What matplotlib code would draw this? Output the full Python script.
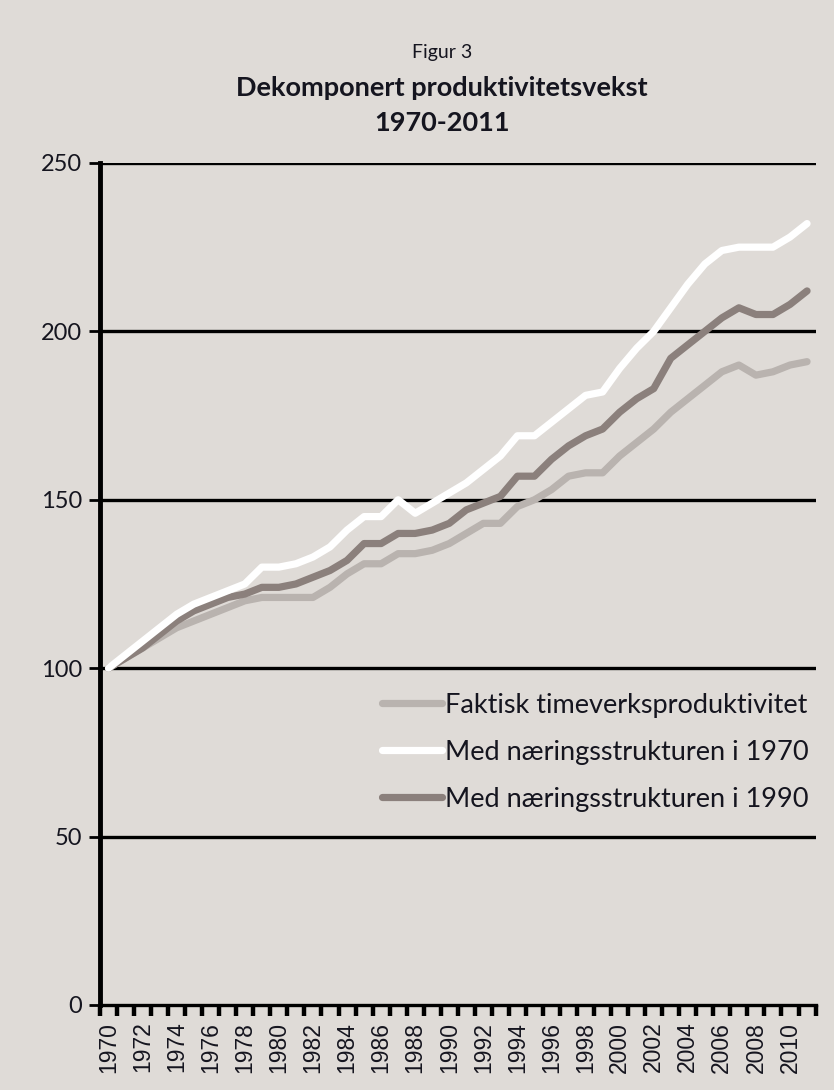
import matplotlib
matplotlib.use("Agg")
import matplotlib.pyplot as plt
import numpy as np

years = list(range(1970, 2012))

faktisk = [100, 103, 106, 109, 112, 114, 116, 118, 120, 121,
           121, 121, 121, 124, 128, 131, 131, 134, 134, 135,
           137, 140, 143, 143, 148, 150, 153, 157, 158, 158,
           163, 167, 171, 176, 180, 184, 188, 190, 187, 188,
           190, 191]
struktur_1970 = [100, 104, 108, 112, 116, 119, 121, 123, 125, 130,
                 130, 131, 133, 136, 141, 145, 145, 150, 146, 149,
                 152, 155, 159, 163, 169, 169, 173, 177, 181, 182,
                 189, 195, 200, 207, 214, 220, 224, 225, 225, 225,
                 228, 232]
struktur_1990 = [100, 103, 106, 110, 114, 117, 119, 121, 122, 124,
                 124, 125, 127, 129, 132, 137, 137, 140, 140, 141,
                 143, 147, 149, 151, 157, 157, 162, 166, 169, 171,
                 176, 180, 183, 192, 196, 200, 204, 207, 205, 205,
                 208, 212]

labels = ["Faktisk timeverksproduktivitet",
          "Med næringsstrukturen i 1970",
          "Med næringsstrukturen i 1990"]
colors = ["#b9b3af", "#ffffff", "#8b807c"]
yticks = [0, 50, 100, 150, 200, 250]

bg = "#dfdbd7"
text_col = "#15151f"

fig = plt.figure(figsize=(8.34, 10.90), dpi=100, facecolor=bg)
ax = fig.add_axes([0.1199, 0.078, 0.858, 0.7725], facecolor=bg)

x = np.arange(len(years))
series = [faktisk, struktur_1970, struktur_1990]
zorders = [3, 5, 4]
for vals, lab, col, z in zip(series, labels, colors, zorders):
    ax.plot(x, vals, color=col, lw=5.2, label=lab, zorder=z,
            solid_capstyle="round", solid_joinstyle="round")

ax.set_xlim(-0.5, len(years) - 0.5)
ax.set_ylim(0, 250)

# horizontal gridlines
for yv in yticks[1:]:
    ax.axhline(yv, color="black", lw=2.4, zorder=1)

for side in ["top", "right"]:
    ax.spines[side].set_visible(False)
ax.spines["left"].set_linewidth(3.5)
ax.spines["bottom"].set_linewidth(2.4)
ax.spines["left"].set_zorder(6)

ax.set_yticks(yticks)
ax.set_yticklabels([str(v) for v in yticks], fontsize=17,
                   family=["Lato"], color=text_col)
ax.tick_params(axis="y", length=8, width=2, pad=5)

# x: tick marks on category borders, labels on every second year
ax.set_xticks(np.arange(len(years) + 1) - 0.5)
ax.set_xticklabels([])
ax.tick_params(axis="x", which="major", length=8, width=3.2,
               direction="out")
ax.set_xticks(x[::2], minor=True)
ax.set_xticklabels([str(y) for y in years[::2]], minor=True, rotation=90,
                   fontsize=16.5, family=["Liberation Sans"], color=text_col)
ax.tick_params(axis="x", which="minor", length=0, pad=12)

leg = ax.legend(loc="upper left", bbox_to_anchor=(0.36, 0.40),
                frameon=False, handlelength=2.2, handletextpad=0.12,
                labelspacing=0.82,
                prop={"family": ["Lato"], "size": 19.5})
for t in leg.get_texts():
    t.set_color(text_col)

fig.text(0.53, 0.952, "Figur 3", ha="center", va="center",
         fontsize=14, family=["Lato"], color=text_col)
fig.text(0.53, 0.919, "Dekomponert produktivitetsvekst", ha="center",
         va="center", fontsize=19.5, fontweight="bold", family=["Lato"],
         color=text_col)
fig.text(0.53, 0.887, "1970-2011", ha="center", va="center",
         fontsize=19.5, fontweight="bold", family=["Lato"],
         color=text_col)

fig.savefig("out.png", dpi=100, facecolor=bg)
